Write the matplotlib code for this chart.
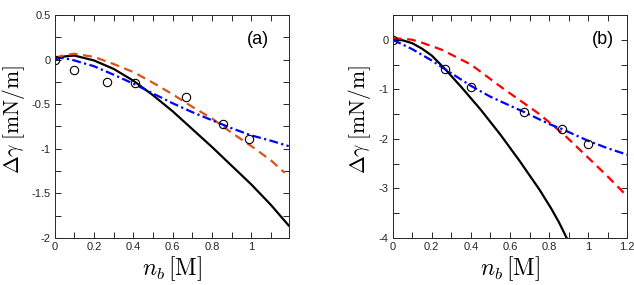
import matplotlib
matplotlib.use("Agg")
import matplotlib.pyplot as plt
import numpy as np

plt.rcParams['mathtext.fontset'] = 'cm'
plt.rcParams['font.family'] = ['Liberation Sans', 'DejaVu Sans']

# ---- panel (a) data ----
exp_a_x = [0.0, 0.10, 0.265, 0.41, 0.67, 0.855, 0.99]
exp_a_y = [0.0, -0.113, -0.25, -0.26, -0.417, -0.72, -0.894]

black_a_x = [0.0, 0.05, 0.1, 0.2, 0.3, 0.4, 0.5, 0.6, 0.7, 0.8, 0.9, 1.0, 1.1, 1.19]
black_a_y = [0.0, 0.035, 0.045, -0.01, -0.105, -0.237, -0.40, -0.58, -0.78, -0.98, -1.19, -1.40, -1.63, -1.86]

orange_a_x = [0.0, 0.05, 0.1, 0.2, 0.3, 0.4, 0.5, 0.6, 0.7, 0.8, 0.9, 1.0, 1.1, 1.17]
orange_a_y = [0.02, 0.05, 0.065, 0.03, -0.05, -0.14, -0.26, -0.39, -0.53, -0.66, -0.82, -0.97, -1.13, -1.27]

blue_a_x = [0.0, 0.05, 0.1, 0.2, 0.3, 0.4, 0.5, 0.6, 0.7, 0.8, 0.9, 1.0, 1.1, 1.19]
blue_a_y = [0.02, 0.015, -0.01, -0.075, -0.17, -0.27, -0.38, -0.49, -0.59, -0.68, -0.77, -0.85, -0.91, -0.97]

# ---- panel (b) data ----
exp_b_x = [0.0, 0.265, 0.40, 0.673, 0.865, 1.0]
exp_b_y = [0.0, -0.595, -0.946, -1.46, -1.80, -2.11]

black_b_x = [0.0, 0.05, 0.1, 0.15, 0.2, 0.27, 0.35, 0.45, 0.55, 0.65, 0.75, 0.81, 0.85, 0.89]
black_b_y = [0.0, -0.01, -0.07, -0.18, -0.32, -0.6, -0.95, -1.41, -1.91, -2.45, -3.02, -3.40, -3.68, -4.0]

red_b_x = [0.0, 0.05, 0.1, 0.15, 0.25, 0.4, 0.56, 0.65, 0.75, 0.875, 1.0, 1.1, 1.2]
red_b_y = [0.03, 0.02, 0.0, -0.06, -0.2, -0.5, -0.97, -1.22, -1.5, -1.91, -2.38, -2.76, -3.16]

blue_b_x = [0.0, 0.1, 0.2, 0.27, 0.4, 0.5, 0.6, 0.673, 0.8, 0.865, 1.0, 1.1, 1.2]
blue_b_y = [0.0, -0.19, -0.42, -0.6, -0.93, -1.15, -1.33, -1.46, -1.7, -1.80, -2.04, -2.19, -2.32]

panel_labels = ['(a)', '(b)']
xlabel = r'$n_b\,[\mathrm{M}]$'
ylabel = r'$\Delta\gamma\;[\mathrm{mN/m}]$'

fig = plt.figure(figsize=(6.34, 2.85), dpi=100)
ax_a = fig.add_axes([0.0863, 0.165, 0.369, 0.7825])
ax_b = fig.add_axes([0.6194, 0.165, 0.370, 0.7825])

spine_col = '#262626'

def fmt(v):
    return '%g' % round(v, 3)

def style(ax, xlim, ylim, xticks, xlab_step, yticks, ylab_step, ylab_x):
    ax.set_xlim(*xlim)
    ax.set_ylim(*ylim)
    ax.set_xticks(xticks)
    ax.set_xticklabels([fmt(v) if abs(round(v / xlab_step) * xlab_step - v) < 1e-6 else '' for v in xticks])
    ax.set_yticks(yticks)
    ax.set_yticklabels([fmt(v) if abs(round(v / ylab_step) * ylab_step - v) < 1e-6 else '' for v in yticks])
    ax.tick_params(direction='in', top=True, right=True, length=4.5, width=0.7,
                   labelsize=8, colors=spine_col, pad=3)
    for s in ax.spines.values():
        s.set_color(spine_col)
        s.set_linewidth(0.7)
    ax.set_xlabel(xlabel, fontsize=17)
    ax.set_ylabel(ylabel, fontsize=15.5)
    ax.xaxis.set_label_coords(0.5, -0.075)
    ax.yaxis.set_label_coords(ylab_x, 0.53)

lw = 1.6
ax_a.plot(black_a_x, black_a_y, color='black', lw=lw)
ax_a.plot(orange_a_x, orange_a_y, color='#D95319', lw=lw, ls=(0, (4, 2.5)))
ax_a.plot(blue_a_x, blue_a_y, color='#0000FF', lw=lw, ls=(0, (4, 1.5, 1, 1.5)))
ax_a.plot(exp_a_x, exp_a_y, 'o', mfc='none', mec='black', ms=6, mew=0.8)
style(ax_a, (0, 1.19), (-2, 0.5), np.round(np.arange(0, 1.15, 0.1), 2), 0.2,
      np.round(np.arange(-2, 0.51, 0.25), 2), 0.5, -0.118)
ax_a.text(0.87, 0.89, panel_labels[0], transform=ax_a.transAxes, fontsize=13,
          ha='center', va='center')

ax_b.plot(black_b_x, black_b_y, color='black', lw=lw)
ax_b.plot(red_b_x, red_b_y, color='#FF0000', lw=lw, ls=(0, (4, 2.5)))
ax_b.plot(blue_b_x, blue_b_y, color='#0000FF', lw=lw, ls=(0, (4, 1.5, 1, 1.5)))
ax_b.plot(exp_b_x, exp_b_y, 'o', mfc='none', mec='black', ms=6, mew=0.8)
style(ax_b, (0, 1.2), (-4, 0.5), np.round(np.arange(0, 1.21, 0.1), 2), 0.2,
      np.round(np.arange(-4, 0.51, 0.5), 2), 1.0, -0.082)
ax_b.text(0.898, 0.89, panel_labels[1], transform=ax_b.transAxes, fontsize=13,
          ha='center', va='center')

fig.savefig('out.png', dpi=100)
